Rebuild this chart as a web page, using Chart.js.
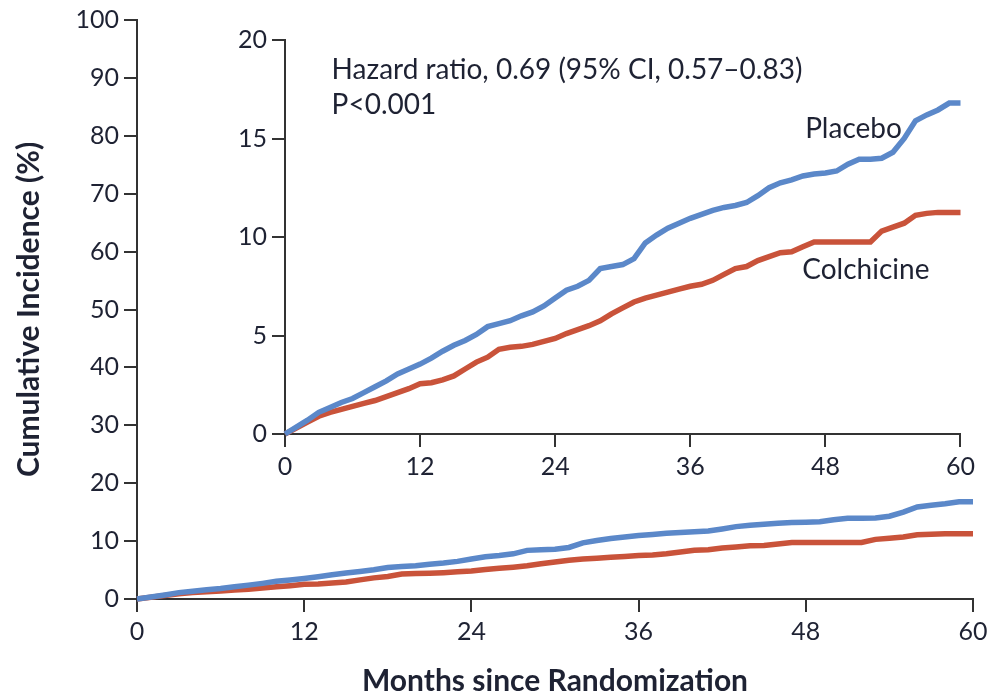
<!DOCTYPE html>
<html>
<head>
<meta charset="utf-8">
<script src="https://cdn.jsdelivr.net/npm/chart.js@4.4.1/dist/chart.umd.min.js"></script>
<style>
  html, body { margin: 0; padding: 0; background: #fff; }
  #wrap { position: relative; width: 996px; height: 696px; }
  #main { position: absolute; left: 0; top: 0; }
  #inset { position: absolute; left: 200px; top: 20px; }
</style>
</head>
<body>
<div id="wrap">
  <canvas id="main" width="996" height="696"></canvas>
  <canvas id="inset" width="780" height="470"></canvas>
</div>
<script>
// months since randomization
const months = [0, 1, 2, 3, 4, 5, 6, 7, 8, 9, 10, 11, 12, 13, 14, 15, 16, 17, 18, 19, 20,
  21, 22, 23, 24, 25, 26, 27, 28, 29, 30, 31, 32, 33, 34, 35, 36, 37, 38, 39, 40,
  41, 42, 43, 44, 45, 46, 47, 48, 49, 50, 51, 52, 53, 54, 55, 56, 57, 58, 59, 60]

// cumulative incidence (%)
const placebo = [0, 0.35, 0.7, 1.1, 1.35, 1.6, 1.8, 2.1, 2.4, 2.7, 3.05, 3.3, 3.55, 3.85, 4.2, 4.5,
  4.75, 5.05, 5.45, 5.6, 5.75, 6.0, 6.2, 6.5, 6.9, 7.3, 7.5, 7.8, 8.4, 8.5, 8.6, 8.9, 9.7, 10.1,
  10.45, 10.7, 10.95, 11.15, 11.35, 11.5, 11.6, 11.75, 12.1, 12.5, 12.75, 12.9, 13.1, 13.2, 13.25,
  13.35, 13.7, 13.95, 13.95, 14.0, 14.3, 15.0, 15.9, 16.2, 16.45, 16.8, 16.8]

const colchicine = [0, 0.3, 0.6, 0.9, 1.1, 1.25, 1.4, 1.55, 1.7, 1.9, 2.1, 2.3, 2.55, 2.6, 2.75, 2.95,
  3.3, 3.65, 3.9, 4.3, 4.4, 4.45, 4.55, 4.7, 4.85, 5.1, 5.3, 5.5, 5.75, 6.1, 6.4, 6.7, 6.9, 7.05,
  7.2, 7.35, 7.5, 7.6, 7.8, 8.1, 8.4, 8.5, 8.8, 9.0, 9.2, 9.25, 9.5, 9.75, 9.75, 9.75, 9.75, 9.75,
  9.75, 10.3, 10.5, 10.7, 11.1, 11.2, 11.25, 11.25, 11.25]

const xTicks = [0, 12, 24, 36, 48, 60]
const mainYTicks = [0, 10, 20, 30, 40, 50, 60, 70, 80, 90, 100]
const insetYTicks = [0, 5, 10, 15, 20]

const BLUE = "#5b88c9"
const RED = "#c9533a"
const INK = "#1e2233"
const AXIS = "#333333"

function buildDataset(label, values, color) {
  return {
    label,
    data: months.map((m, i) => ({ x: m, y: values[i] })),
    borderColor: color,
    backgroundColor: "transparent",
    borderWidth: 5.5,
    pointRadius: 0,
    tension: 0,
    clip: false
  }
}

function axisOpts(ticksArr, min, max, size, extra) {
  return Object.assign({
    type: "linear",
    min,
    max,
    afterBuildTicks: (scale) => { scale.ticks = ticksArr.map(v => ({ value: v })) },
    afterFit: (scale) => {
      if (scale.isHorizontal()) scale.height = size
      else scale.width = size
    },
    grid: { drawOnChartArea: false, drawTicks: true, tickLength: 13, color: AXIS, lineWidth: 2 },
    border: { display: true, color: AXIS, width: 2 },
    ticks: { color: INK, font: { family: "Lato", size: 25 }, padding: 5, maxRotation: 0 }
  }, extra || {})
}

new Chart(document.getElementById("main"), {
  type: "line",
  data: {
    datasets: [
      buildDataset("Placebo", placebo, BLUE),
      buildDataset("Colchicine", colchicine, RED)
    ]
  },
  options: {
    responsive: false,
    animation: false,
    devicePixelRatio: 1,
    layout: { padding: { top: 20, right: 23, left: 0, bottom: 0 } },
    plugins: { legend: { display: false }, tooltip: { enabled: false } },
    scales: {
      x: axisOpts(xTicks, 0, 60, 97, {
        title: {
          display: true,
          text: "Months since Randomization",
          color: INK,
          font: { family: "Lato", size: 30, weight: "bold", lineHeight: 1 },
          padding: { top: 0, bottom: 0 }
        }
      }),
      y: axisOpts(mainYTicks, 0, 100, 137, {
        title: {
          display: true,
          text: "Cumulative Incidence (%)",
          color: INK,
          font: { family: "Lato", size: 30, weight: "bold", lineHeight: 1 },
          padding: { top: 14, bottom: 0 }
        }
      })
    }
  }
})

// text inside the inset, placed in data coordinates (baseline)
const insetNotes = {
  id: "insetNotes",
  afterDraw(chart) {
    const { ctx, scales: { x, y } } = chart
    ctx.save()
    ctx.fillStyle = INK
    ctx.font = "28px Lato"
    ctx.textBaseline = "alphabetic"
    ctx.textAlign = "left"
    ctx.fillText("Hazard ratio, 0.69 (95% CI, 0.57\u20130.83)", x.getPixelForValue(4.14), y.getPixelForValue(18.04))
    ctx.fillText("P<0.001", x.getPixelForValue(4.14), y.getPixelForValue(16.23))
    ctx.fillText("Placebo", x.getPixelForValue(46.2), y.getPixelForValue(15.03))
    ctx.fillText("Colchicine", x.getPixelForValue(45.95), y.getPixelForValue(7.89))
    ctx.restore()
  }
}

new Chart(document.getElementById("inset"), {
  type: "line",
  data: {
    datasets: [
      buildDataset("Placebo", placebo, BLUE),
      buildDataset("Colchicine", colchicine, RED)
    ]
  },
  options: {
    responsive: false,
    animation: false,
    devicePixelRatio: 1,
    layout: { padding: { top: 16, right: 18, left: 0, bottom: 0 } },
    plugins: { legend: { display: false }, tooltip: { enabled: false } },
    scales: {
      x: axisOpts(xTicks, 0, 60, 56),
      y: axisOpts(insetYTicks, 0, 20, 85)
    }
  },
  plugins: [insetNotes]
})
</script>
</body>
</html>
